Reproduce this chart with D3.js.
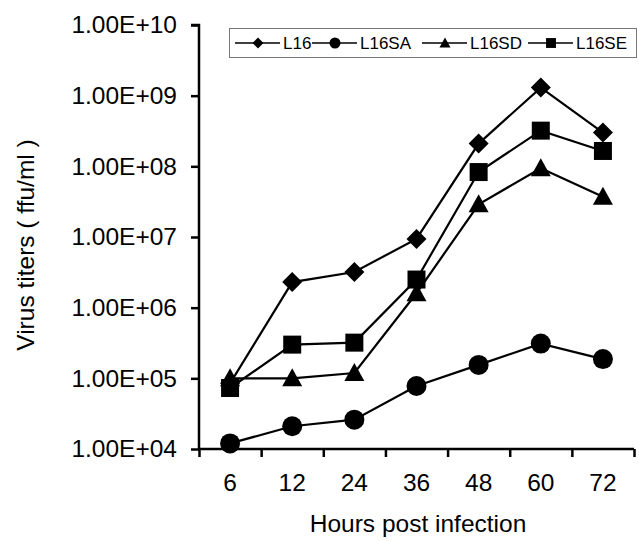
<!DOCTYPE html>
<html>
<head>
<meta charset="utf-8">
<script src="https://cdn.jsdelivr.net/npm/d3@7"></script>
<style>
  html, body { margin: 0; padding: 0; background: #fff; }
  svg text { font-family: "Liberation Sans", Arial, sans-serif; fill: #000; }
</style>
</head>
<body>
<svg id="chart" width="639" height="541"></svg>
<script>
const hours = ["6", "12", "24", "36", "48", "60", "72"];
const yTicks = [1e4, 1e5, 1e6, 1e7, 1e8, 1e9, 1e10];

const seriesNames = ["L16", "L16SA", "L16SD", "L16SE"];
const l16 = [8.5e4, 2.3e6, 3.2e6, 9.4e6, 2.1e8, 1.3e9, 3.0e8];
const l16sa = [1.2e4, 2.1e4, 2.6e4, 7.8e4, 1.55e5, 3.1e5, 1.87e5];
const l16sd = [1.0e5, 1.0e5, 1.19e5, 1.6e6, 2.9e7, 9.4e7, 3.7e7];
const l16se = [7.3e4, 3.0e5, 3.2e5, 2.5e6, 8.3e7, 3.2e8, 1.65e8];

const series = [
  { name: seriesNames[0], values: l16, shape: "diamond" },
  { name: seriesNames[1], values: l16sa, shape: "circle" },
  { name: seriesNames[2], values: l16sd, shape: "triangle" },
  { name: seriesNames[3], values: l16se, shape: "square" },
];

const svg = d3.select("#chart");
const plotLeft = 199, plotRight = 634, plotTop = 25, plotBottom = 449;

const x = d3.scaleBand().domain(hours).range([plotLeft, plotRight]).padding(0);
const xEdge = d3.scaleLinear().domain([0, hours.length]).range([plotLeft, plotRight]);
const y = d3.scaleLog().domain([1e4, 1e10]).range([plotBottom, plotTop]);

// marker path by shape and scale factor
function marker(shape, s) {
  if (shape === "diamond") return `M0,${-10 * s}L${10 * s},0L0,${10 * s}L${-10 * s},0Z`;
  if (shape === "square") return `M${-9 * s},${-9 * s}h${18 * s}v${18 * s}h${-18 * s}Z`;
  if (shape === "triangle") return `M0,${-10 * s}L${10 * s},${8 * s}L${-10 * s},${8 * s}Z`;
  const r = 10 * s;
  return `M${r},0A${r},${r} 0 1,1 ${-r},0A${r},${r} 0 1,1 ${r},0Z`;
}

// y axis
const yAxis = svg.append("g")
  .attr("transform", `translate(${plotLeft},0)`)
  .call(d3.axisLeft(y).tickValues(yTicks).tickSize(8).tickPadding(14)
    .tickFormat((d) => "1.00E+" + String(Math.round(Math.log10(d))).padStart(2, "0")));
yAxis.select(".domain").attr("d", `M-8,${plotTop}H0V${plotBottom}`);

// x axis (ticks at category edges)
const xAxis = svg.append("g")
  .attr("transform", `translate(0,${plotBottom})`)
  .call(d3.axisBottom(xEdge).tickValues(d3.range(hours.length + 1)).tickSize(8)
    .tickSizeOuter(0).tickFormat(""));
xAxis.select(".domain").attr("d", `M${plotLeft},0H${plotRight}`);

svg.append("g")
  .attr("transform", `translate(0,${plotBottom})`)
  .call(d3.axisBottom(x).tickSize(0).tickPadding(25))
  .call((g) => g.select(".domain").remove());

svg.selectAll(".tick text").attr("font-size", 24.5).style("font-family", "Liberation Sans, Arial, sans-serif");
svg.selectAll(".domain, .tick line").attr("stroke", "#000").attr("stroke-width", 2.5);

// axis titles
svg.append("text")
  .attr("x", 418)
  .attr("y", 532)
  .attr("text-anchor", "middle")
  .attr("font-size", 24.5)
  .text("Hours post infection");
svg.append("text")
  .attr("transform", `translate(34,245) rotate(-90)`)
  .attr("text-anchor", "middle")
  .attr("font-size", 24.5)
  .text("Virus titers ( ffu/ml )");

// lines and markers
const line = d3.line()
  .x((d, i) => x(hours[i]) + x.bandwidth() / 2)
  .y((d) => y(d));

series.forEach((s) => {
  const g = svg.append("g");
  g.append("path")
    .datum(s.values)
    .attr("fill", "none")
    .attr("stroke", "#000")
    .attr("stroke-width", 2.2)
    .attr("d", line);
  g.selectAll("path.m")
    .data(s.values)
    .enter()
    .append("path")
    .attr("class", "m")
    .attr("transform", (d, i) => `translate(${x(hours[i]) + x.bandwidth() / 2},${y(d)})`)
    .attr("d", marker(s.shape, 1))
    .attr("fill", "#000");
});

// legend
const legend = svg.append("g");
legend.append("rect")
  .attr("x", 229.5).attr("y", 28.5)
  .attr("width", 407).attr("height", 29)
  .attr("fill", "#fff")
  .attr("stroke", "#777")
  .attr("stroke-width", 1);

const legendX = [235, 312, 422, 528];
series.forEach((s, i) => {
  const lx = legendX[i];
  const g = legend.append("g").attr("transform", `translate(${lx},43)`);
  g.append("line").attr("x1", 0).attr("x2", 45).attr("stroke", "#000").attr("stroke-width", 1.5);
  g.append("path").attr("transform", "translate(23,0)").attr("d", marker(s.shape, 0.55)).attr("fill", "#000");
  g.append("text").attr("x", 48).attr("y", 6).attr("font-size", 17).text(s.name);
});
</script>
</body>
</html>
